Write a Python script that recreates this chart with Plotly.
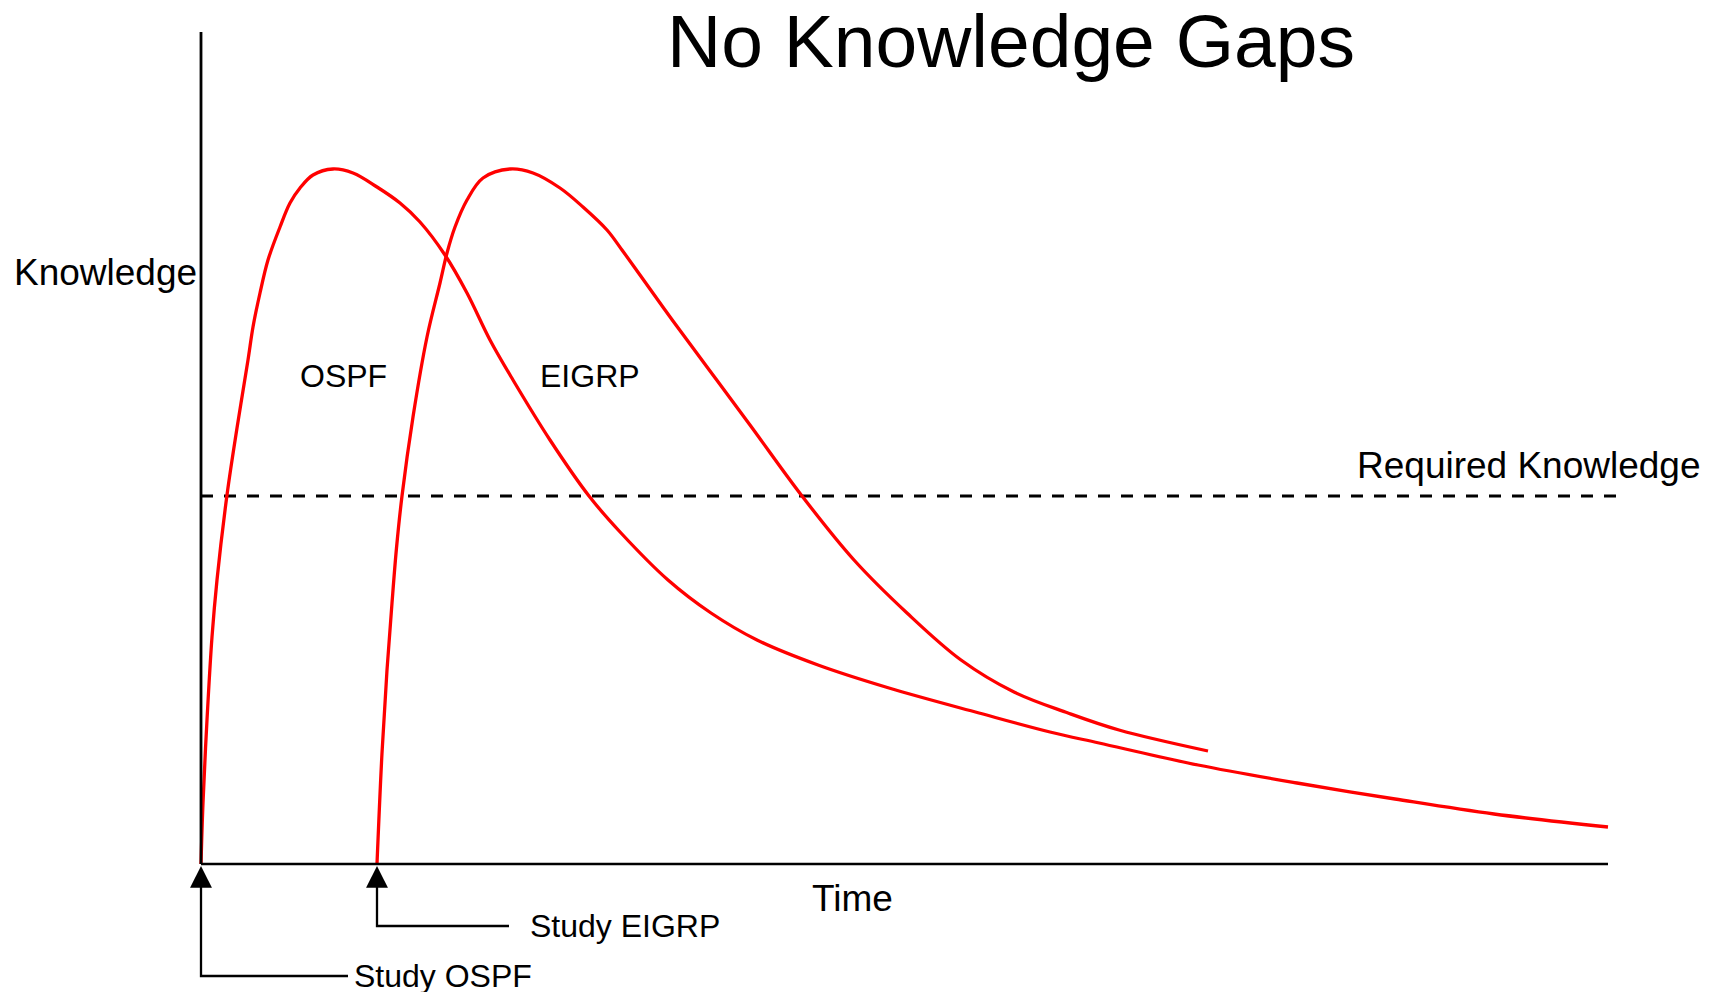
import plotly.graph_objects as go

FONT = "Liberation Sans, Arial, sans-serif"
RED = "#FF0000"
BLACK = "#000000"

# Knowledge over time (time 0 = Study OSPF)
ospf_time = [0, 2, 6, 11, 16, 26, 36, 47, 52, 59, 67, 79, 89, 99, 112,
             132, 152, 176, 199, 219, 244, 266, 289, 312, 349, 388, 420, 467,
             510, 556, 617, 688, 778, 849, 898, 997, 1096, 1194, 1293, 1407]
ospf_knowledge = [0, 61, 144, 227, 284, 369, 436, 504, 537, 571, 604, 637,
                  661, 676, 689, 695, 691, 677, 661, 642, 609, 571, 524, 484,
                  424, 368, 331, 284, 251, 224, 199, 176, 151, 132, 121, 99,
                  81, 65, 50, 37]

eigrp_time = [176, 181, 186, 191, 195.5, 201, 212, 226, 239, 246, 254, 266,
              282, 309, 332, 359, 382, 406, 421, 439, 472, 509, 549, 601, 653,
              706, 760, 813, 867, 918, 1007]
eigrp_knowledge = [0, 111, 194, 261, 316, 368, 447, 527, 581, 611, 637, 664,
                   686, 695, 691, 676, 657, 634, 614, 589, 543, 493, 439, 368,
                   304, 251, 204, 172, 151, 134, 113]

required_knowledge = 368
study_start = {"Study OSPF": ospf_time[0], "Study EIGRP": eigrp_time[0]}

# frame of the sketch
TIME_END = 1407
KNOWLEDGE_TOP = 832
REQUIRED_END = 1424

fig = go.Figure()

# axes drawn as plain lines
fig.add_shape(type="line", x0=0, x1=0, y0=0, y1=KNOWLEDGE_TOP,
              line=dict(color=BLACK, width=2.8))
fig.add_shape(type="line", x0=0, x1=TIME_END, y0=0, y1=0,
              line=dict(color=BLACK, width=2.5))

# required knowledge level
fig.add_trace(go.Scatter(
    x=[0, REQUIRED_END], y=[required_knowledge, required_knowledge],
    mode="lines", line=dict(color=BLACK, width=3, dash="12px,11px"),
    hoverinfo="skip",
))

# forgetting curves
for t, k in [(ospf_time, ospf_knowledge), (eigrp_time, eigrp_knowledge)]:
    fig.add_trace(go.Scatter(
        x=t, y=k, mode="lines",
        line=dict(color=RED, width=3.3, shape="spline", smoothing=1),
        hoverinfo="skip",
    ))

# "Study ..." callouts: elbow connector + arrow up to the time axis
callouts = [
    # label, text centre x, connector y, connector end x
    ("Study OSPF", 242, -112, 147),
    ("Study EIGRP", 424, -62, 308),
]
for label, text_x, line_y, line_end in callouts:
    start = study_start[label]
    fig.add_trace(go.Scatter(
        x=[line_end, start, start], y=[line_y, line_y, -14],
        mode="lines", line=dict(color=BLACK, width=2.3),
        hoverinfo="skip",
    ))
    fig.add_annotation(
        x=start, y=-2, ax=start, ay=-24, axref="x", ayref="y",
        text="", showarrow=True, arrowhead=2, arrowsize=1.9,
        arrowwidth=2.3, arrowcolor=BLACK, standoff=0,
    )
    fig.add_annotation(
        x=text_x, y=line_y, text=label, showarrow=False,
        font=dict(family=FONT, size=32, color=BLACK),
    )

labels = [
    # text, x, y, size
    ("No Knowledge Gaps", 810, 823, 75),
    ("Knowledge", -96, 592, 37),
    ("OSPF", 142, 488, 32),
    ("EIGRP", 389, 488, 32),
    ("Required Knowledge", 1328, 399, 37),
    ("Time", 651, -34, 37),
]
for text, x, y, size in labels:
    fig.add_annotation(
        x=x, y=y, text=text, showarrow=False,
        font=dict(family=FONT, size=size, color=BLACK),
    )

fig.update_layout(
    width=1712,
    height=992,
    autosize=False,
    margin=dict(l=0, r=0, t=0, b=0),
    paper_bgcolor="white",
    plot_bgcolor="white",
    showlegend=False,
    xaxis=dict(range=[-201, 1511], visible=False, fixedrange=True),
    yaxis=dict(range=[-128, 864], visible=False, fixedrange=True),
)

fig.write_html(
    "out.html",
    config={"displayModeBar": False},
    post_script="document.body.style.margin = '0';",
)
